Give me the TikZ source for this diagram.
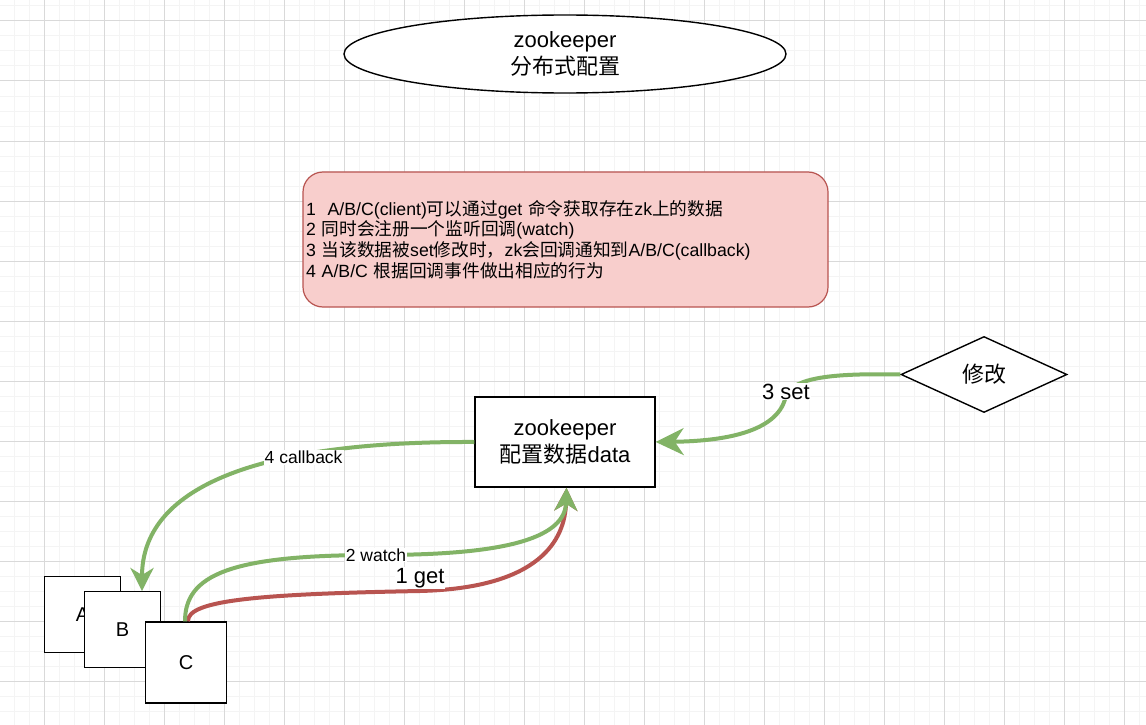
\documentclass[tikz,border=0pt]{standalone}
\usepackage{fontspec}
\setmainfont{Liberation Sans}
\newfontfamily\cjk{Noto Sans CJK SC}
\newcommand\zh[1]{{\cjk #1}}
\usetikzlibrary{shapes.geometric,arrows.meta}
\definecolor{grn}{HTML}{82B366}
\definecolor{rd}{HTML}{B85450}
\definecolor{pinkfill}{HTML}{F8CECC}
\definecolor{gmaj}{HTML}{D9D9D9}
\definecolor{gmin}{HTML}{F4F4F4}
\begin{document}
\begin{tikzpicture}[x=1pt,y=-1pt,
  shapebox/.style={draw=black,line width=1.4pt,fill=white,inner sep=0pt},
  bigtxt/.style={font=\fontsize{22}{26.5}\selectfont},
  midtxt/.style={font=\fontsize{20}{24}\selectfont},
  smalltxt/.style={font=\fontsize{17.5}{20.7}\selectfont},
  notetxt/.style={font=\fontsize{17.7}{20.7}\selectfont},
  conn/.style={line width=4pt},
  bigtip/.style={-{Stealth[length=28pt,width=27pt,inset=9pt]}},
  smalltip/.style={-{Stealth[length=23pt,width=23pt,inset=7pt]}},
  lbl/.style={fill=white,inner sep=1pt,text=black}]
\useasboundingbox (0,0) rectangle (1146,725);
\fill[white] (0,0) rectangle (1146,725);
% grid
\foreach \x in {-1,14,...,1146} \draw[gmin,line width=1pt] (\x,0) -- (\x,725);
\foreach \y in {6,21,...,725} \draw[gmin,line width=1pt] (0,\y) -- (1146,\y);
\foreach \x in {44,104,...,1146} \draw[gmaj,line width=1pt] (\x,0) -- (\x,725);
\foreach \y in {21,81,...,725} \draw[gmaj,line width=1pt] (0,\y) -- (1146,\y);

% title ellipse
\node[shapebox,ellipse,minimum width=442pt,minimum height=78pt,bigtxt,align=center] (title) at (565,54) {zookeeper\\\zh{分布式配置}};

% note
\node[draw=rd,line width=1.2pt,fill=pinkfill,rounded corners=20pt,minimum width=525pt,minimum height=135pt,
      inner xsep=3pt,inner ysep=0pt,text width=519pt,align=left,notetxt] (note) at (565.5,239.5)
 {1\ \ A/B/C(client)\zh{可以通过}get \zh{命令获取存在}zk\zh{上的数据}\\
  2 \zh{同时会注册一个监听回调}(watch)\\
  3 \zh{当该数据被}set\zh{修改时，}zk\zh{会回调通知到}A/B/C(callback)\\
  4 A/B/C \zh{根据回调事件做出相应的行为}};

% data box
\node[shapebox,minimum width=180pt,minimum height=90pt,bigtxt,align=center] (data) at (565,442) {zookeeper\\\zh{配置数据}data};

% diamond
\node[shapebox,diamond,aspect=2.2,minimum width=166pt,minimum height=76pt,bigtxt] (mod) at (984,374.5) {\zh{修改}};

% clients
\node[shapebox,minimum width=75.5pt,minimum height=75.5pt,midtxt] (A) at (82.5,614.5) {A};
\node[shapebox,minimum width=75.5pt,minimum height=75.5pt,midtxt] (B) at (122.5,629.5) {B};
\node[shapebox,minimum width=81pt,minimum height=81pt,midtxt] (C) at (186,662.5) {C};

% 3 set
\draw[conn,grn,bigtip] (mod.west) .. controls (830,373) and (795,378) .. (786,395)
   node[lbl,bigtxt,yshift=3.5pt] (setlbl) {3 set}
   .. controls (780,430) and (730,441) .. (data.east);

% 4 callback
\draw[conn,grn,smalltip] (data.west) .. controls (250,441) and (142,490) .. ([xshift=19.5pt]B.north)
   node[lbl,smalltxt,pos=0.3,yshift=-3pt] (cblbl) {4 callback};

% 1 get
\draw[conn,rd,smalltip] ([xshift=2pt]C.north) .. controls (187,600) and (260,594) .. (420,591)
   node[lbl,bigtxt,yshift=13pt] (getlbl) {1 get}
   .. controls (540,588) and (565,540) .. ([xshift=1.5pt]data.south);

% 2 watch
\draw[conn,grn,smalltip] ([xshift=-1pt]C.north) .. controls (185,575) and (230,555) .. (376,555)
   node[lbl,smalltxt] (watchlbl) {2 watch}
   .. controls (480,555) and (565,545) .. ([xshift=1.5pt]data.south);
\end{tikzpicture}
\end{document}
